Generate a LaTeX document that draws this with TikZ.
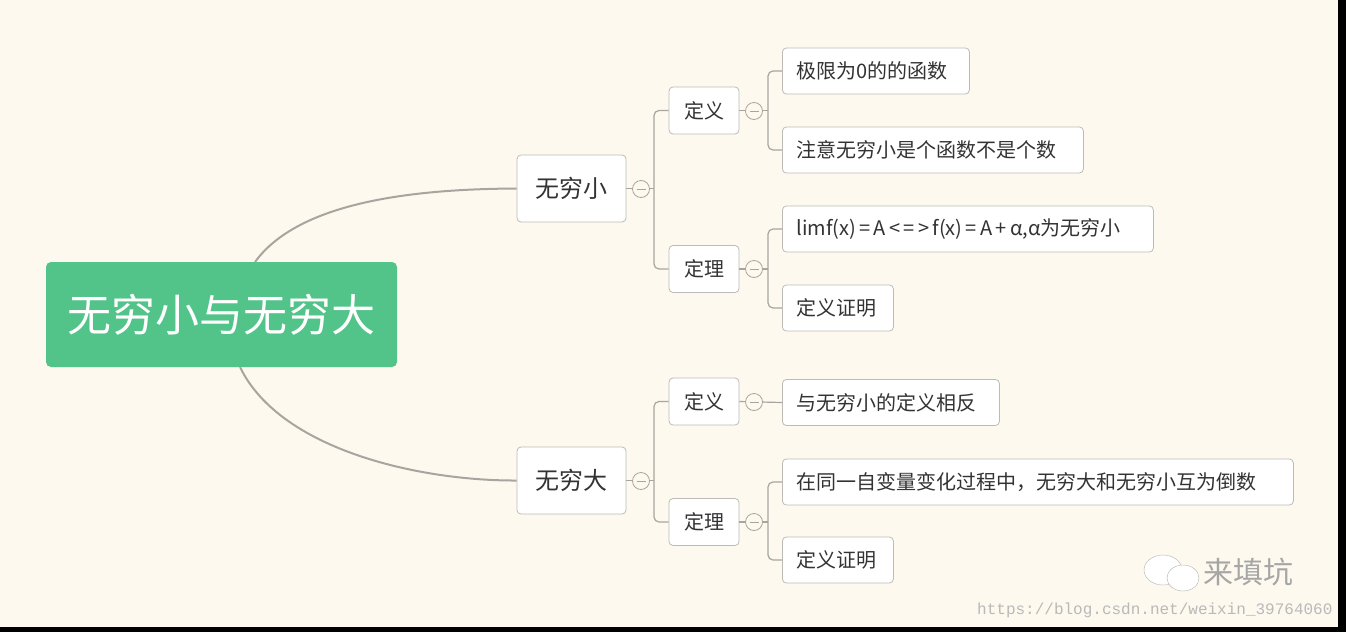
\documentclass[tikz,border=0pt]{standalone}
\usepackage{fontspec}
\newfontfamily\cjk{Noto Sans CJK SC}
\newfontfamily\monof{Liberation Mono}
\definecolor{bg}{HTML}{FDF9EE}
\definecolor{grn}{HTML}{52C48A}
\definecolor{ln}{HTML}{A8A4A0}
\definecolor{bd}{HTML}{BDBBB8}
\tikzset{x=1pt,y=-1pt,
 box/.style={draw=bd,fill=white,rounded corners=4pt,line width=0.8pt,inner sep=0pt,font=\cjk,text=black!80},
 lone/.style={box,minimum width=109pt,minimum height=67pt,font=\cjk\fontsize{24}{28}\selectfont},
 ltwo/.style={box,minimum width=70pt,minimum height=47pt,font=\cjk\fontsize{20}{24}\selectfont},
 leaf/.style={box,minimum height=46pt,font=\cjk\fontsize{20}{24}\selectfont,anchor=west,inner xsep=14pt,text width=#1-28pt,align=left},
 col/.style={circle,draw=ln,fill=bg,minimum size=17pt,inner sep=0pt,line width=0.8pt},
 con/.style={draw=ln,line width=2pt},
 br/.style={draw=ln,line width=1.2pt,rounded corners=5pt}}
\begin{document}
\begin{tikzpicture}
\fill[black] (0,0) rectangle (1346,632);
\fill[bg] (0,0) rectangle (1338,627);
\useasboundingbox (0,0) rectangle (1346,632);
\node[fill=grn,rounded corners=5pt,minimum width=351pt,minimum height=105pt,text=white,font=\cjk\fontsize{44}{50}\selectfont] (root) at (221.5,314.5) {无穷小与无穷大};
\node[lone] (s) at (571.5,188.5) {无穷小};
\node[lone] (b) at (571.5,480.5) {无穷大};
\draw[con] (255,262) .. controls (300,200) and (420,189) .. (s.west);
\draw[con] (240,367) .. controls (280,450) and (420,481) .. (b.west);
% level 2
\node[ltwo] (s1) at (704,110.5) {定义};
\node[ltwo] (s2) at (704,269) {定理};
\node[ltwo] (b1) at (704,401.5) {定义};
\node[ltwo] (b2) at (704,522) {定理};
% leaves
\node[leaf=187pt] (l1) at (782,71) {极限为0的的函数};
\node[leaf=301pt] (l2) at (782,150) {注意无穷小是个函数不是个数};
\node[leaf=371pt] (l3) at (782,229) {limf(x)\,=\,A\,<\,=\,>\,f(x)\,=\,A\,+\,α,α为无穷小};
\node[leaf=111pt] (l4) at (782,308) {定义证明};
\node[leaf=217pt] (l5) at (782,402.5) {与无穷小的定义相反};
\node[leaf=511pt] (l6) at (782,482) {在同一自变量变化过程中，无穷大和无穷小互为倒数};
\node[leaf=111pt] (l7) at (782,560) {定义证明};
% branches level1 -> level2
\draw[br] (s.east) -- (654,188.5);
\draw[br] (s1.west) -- (654,110.5) -- (654,269) -- (s2.west);
\draw[br] (b.east) -- (654,480.5);
\draw[br] (b1.west) -- (654,401.5) -- (654,522) -- (b2.west);
% level2 -> leaves
\draw[br] (s1.east) -- (768,110.5);
\draw[br] (l1.west) -- (768,71) -- (768,150) -- (l2.west);
\draw[br] (s2.east) -- (768,269);
\draw[br] (l3.west) -- (768,229) -- (768,308) -- (l4.west);
\draw[br] (b1.east) -- (l5.west);
\draw[br] (b2.east) -- (768,522);
\draw[br] (l6.west) -- (768,482) -- (768,560) -- (l7.west);
% collapse markers
\foreach \n/\x/\y in {c1/641/189,c2/641/481,c3/754/111,c4/754/269,c5/754/402,c6/754/522}{
 \node[col] (\n) at (\x,\y) {};
 \draw[ln,line width=0.8pt] (\x-4.5,\y) -- (\x+4.5,\y);
}
% watermark
\draw[gray!60,fill=white] (1163,570) ellipse (19pt and 15pt);
\draw[gray!60,fill=white] (1183,578) ellipse (16pt and 13pt);
\node[font=\cjk\fontsize{30}{34}\selectfont,text=gray!70,anchor=west] (wm) at (1200,572) {来填坑};
\node[font=\monof\fontsize{16}{18}\selectfont,text=gray!55,anchor=east] (url) at (1336,610) {https://blog.csdn.net/weixin\_39764060};
\end{tikzpicture}
\end{document}
